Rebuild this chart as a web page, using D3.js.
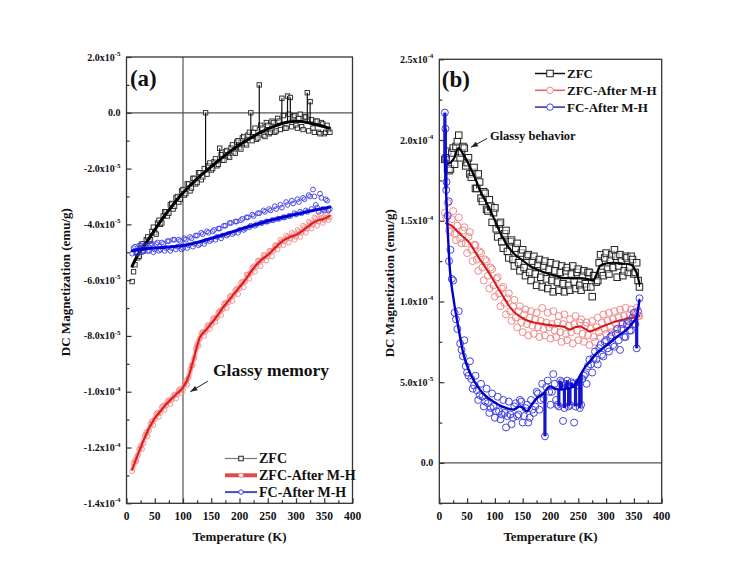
<!DOCTYPE html>
<html><head><meta charset="utf-8">
<script src="https://cdn.jsdelivr.net/npm/d3@7"></script>
<style>
body{margin:0;background:#fff}
svg{display:block}
text{font-family:"Liberation Serif","Times New Roman",serif;font-weight:bold;fill:#111}
</style>
</head><body>
<svg id="c" width="745" height="562"></svg>
<script>
// ---- DATA (magnetization in units of 1e-5 emu/g) ----
const UNIT = 1e-5;
const temps = [10,15,20,25,30,35,40,45,50,55,60,65,70,75,80,85,90,95,100,105,110,115,120,125,130,135,140,145,150,155,160,165,170,175,180,185,190,195,200,205,210,215,220,225,230,235,240,245,250,255,260,265,270,275,280,285,290,295,300,305,310,315,320,325,330,335,340,345,350,355,360];
const tempsHalf = [12.5,17.5,22.5,27.5,32.5,37.5,42.5,47.5,52.5,57.5,62.5,67.5,72.5,77.5,82.5,87.5,92.5,97.5,102.5,107.5,112.5,117.5,122.5,127.5,132.5,137.5,142.5,147.5,152.5,157.5,162.5,167.5,172.5,177.5,182.5,187.5,192.5,197.5,202.5,207.5,212.5,217.5,222.5,227.5,232.5,237.5,242.5,247.5,252.5,257.5,262.5,267.5,272.5,277.5,282.5,287.5,292.5,297.5,302.5,307.5,312.5,317.5,322.5,327.5,332.5,337.5,342.5,347.5,352.5,357.5];

// Panel (a)
const zfcA = [-6.05,-5.45,-5.2,-4.85,-4.95,-4.55,-4.6,-4.25,-4.3,-3.95,
  -4.0,-3.7,-3.55,-3.6,-3.25,-3.35,-3.0,-3.1,-2.75,-2.9,
  -2.55,-2.7,-2.35,-2.5,-2.15,-2.3,0.0,-1.9,-2.05,-1.75,
  -1.9,-1.27,-1.7,-1.4,-1.55,-1.25,-1.4,-1.05,-1.25,-0.9,
  -1.1,-0.8,0.0,-0.7,-0.95,1.0,-0.55,-0.85,-0.45,-0.7,
  -0.35,-0.65,-0.3,0.52,-0.55,0.6,0.55,-0.15,-0.45,-0.2,
  -0.5,-0.15,0.72,0.4,-0.55,-0.3,-0.7,-0.35,-0.75,-0.45,
  -0.7];
const zfcAHalf = [-5.7,-5.0,-5.15,-4.7,-4.85,-4.45,-4.55,-4.1,-4.35,-3.85,
  -3.95,-3.55,-3.7,-3.3,-3.45,-3.05,-3.2,-2.8,-2.95,-2.55,
  -2.8,-2.35,-2.55,-2.15,-2.4,-2.0,-2.2,-1.8,-2.0,-1.65,
  -1.85,-1.5,-1.7,-1.35,-1.6,-1.15,-1.45,-1.0,-1.3,-0.85,
  -1.15,-0.7,-1.0,-0.55,-0.9,-0.45,-0.8,-0.35,-0.75,-0.3,
  -0.7,-0.2,-0.6,-0.1,-0.55,-0.05,-0.5,-0.1,-0.55,-0.05,
  -0.6,-0.15,-0.65,-0.25,-0.7,-0.3,-0.75,-0.4,-0.7,-0.6];
const zfcASpikeT = [140,165,195,220,235,275,285,290,320,325];
const zfcALineT = [10,20,30,40,50,60,70,80,90,100,110,120,130,140,150,160,170,180,190,200,210,220,230,240,250,260,270,280,290,300,310,320,330,340,350,358];
const zfcALine = [-5.5,-5.1,-4.8,-4.5,-4.2,-3.9,-3.62,-3.36,-3.1,-2.87,-2.66,-2.46,-2.27,-2.1,-1.93,-1.76,-1.6,-1.44,-1.29,-1.15,-1.02,-0.9,-0.78,-0.68,-0.58,-0.5,-0.42,-0.36,-0.32,-0.3,-0.31,-0.35,-0.4,-0.45,-0.5,-0.55];

const zfcAfterA = [-12.85,-12.45,-12.3,-11.95,-11.85,-11.45,-11.4,-11.05,-11.0,-10.75,
  -10.75,-10.5,-10.5,-10.3,-10.3,-10.1,-10.1,-9.9,-9.95,-9.6,
  -9.5,-9.05,-8.8,-8.3,-8.1,-7.85,-7.85,-7.6,-7.6,-7.35,
  -7.35,-7.1,-7.05,-6.8,-6.8,-6.55,-6.55,-6.3,-6.3,-6.05,
  -6.05,-5.8,-5.75,-5.5,-5.5,-5.3,-5.3,-5.1,-5.15,-4.95,
  -4.95,-4.75,-4.75,-4.6,-4.6,-4.45,-4.5,-4.35,-4.45,-4.25,
  -4.3,-4.1,-4.15,-3.95,-4.0,-3.8,-3.9,-3.75,-3.85,-3.65,
  -3.75];
const zfcAfterAHalf = [-12.55,-12.5,-12.05,-12.05,-11.55,-11.6,-11.15,-11.2,-10.8,-10.9,
  -10.55,-10.65,-10.35,-10.45,-10.15,-10.25,-9.95,-10.05,-9.7,-9.75,
  -9.2,-9.05,-8.45,-8.35,-7.9,-8.0,-7.65,-7.75,-7.4,-7.5,
  -7.15,-7.25,-6.85,-7.0,-6.6,-6.75,-6.35,-6.5,-6.1,-6.25,
  -5.8,-5.95,-5.55,-5.7,-5.3,-5.5,-5.1,-5.3,-4.95,-5.15,
  -4.75,-4.9,-4.55,-4.75,-4.4,-4.65,-4.3,-4.55,-4.2,-4.45,
  -4.05,-4.3,-3.9,-4.15,-3.75,-4.05,-3.65,-3.95,-3.6,-3.85];
const zfcAfterALineT = [10,20,30,40,50,60,70,80,90,100,110,115,120,125,130,140,150,160,170,180,190,200,210,220,230,240,250,260,270,280,290,300,310,320,330,340,350,360];
const zfcAfterALine = [-12.8,-12.25,-11.75,-11.3,-10.95,-10.7,-10.45,-10.25,-10.05,-9.85,-9.45,-9.1,-8.75,-8.35,-8.05,-7.8,-7.55,-7.3,-7.0,-6.75,-6.5,-6.25,-6.0,-5.7,-5.45,-5.25,-5.1,-4.9,-4.7,-4.55,-4.45,-4.38,-4.25,-4.1,-3.95,-3.85,-3.8,-3.7];

const fcA = [-5.05,-4.8,-5.0,-4.75,-4.95,-4.8,-4.95,-4.7,-4.9,-4.65,
  -4.9,-4.7,-4.85,-4.6,-4.85,-4.55,-4.8,-4.6,-4.85,-4.55,
  -4.75,-4.5,-4.7,-4.4,-4.7,-4.35,-4.6,-4.3,-4.55,-4.2,
  -4.45,-4.15,-4.4,-4.05,-4.35,-3.95,-4.3,-3.9,-4.2,-3.8,
  -4.15,-3.75,-4.05,-3.7,-4.0,-3.6,-3.95,-3.55,-3.9,-3.5,
  -3.85,-3.45,-3.8,-3.4,-3.75,-3.3,-3.7,-3.25,-3.65,-3.2,
  -3.6,-3.1,-3.55,-3.0,-2.75,-3.3,-3.55,-3.05,-3.5,-3.15,
  -3.45];
const fcAHalf = [-4.85,-5.05,-4.75,-5.0,-4.75,-4.95,-4.7,-5.0,-4.7,-4.95,
  -4.65,-4.95,-4.6,-4.95,-4.55,-4.9,-4.55,-4.9,-4.5,-4.85,
  -4.45,-4.8,-4.4,-4.75,-4.3,-4.7,-4.25,-4.6,-4.25,-4.55,
  -4.15,-4.5,-4.05,-4.4,-3.95,-4.35,-3.9,-4.3,-3.85,-4.2,
  -3.75,-4.1,-3.65,-4.05,-3.6,-3.95,-3.5,-3.9,-3.45,-3.85,
  -3.35,-3.8,-3.3,-3.75,-3.2,-3.7,-3.15,-3.6,-3.1,-3.55,
  -3.05,-3.5,-2.95,-3.45,-3.0,-3.4,-2.9,-3.45,-3.1,-3.5];
const fcALineT = [10,20,30,50,70,90,110,130,150,170,190,210,230,250,270,290,310,330,350,360];
const fcALine = [-4.95,-4.9,-4.88,-4.85,-4.82,-4.78,-4.72,-4.62,-4.5,-4.38,-4.25,-4.12,-4.0,-3.88,-3.78,-3.68,-3.6,-3.5,-3.42,-3.38];

// Panel (b)
const zfcB = [18.8,19.3,18.2,19.5,19.6,20.3,19.2,19.5,18.6,17.9,
  18.0,17.0,17.9,16.4,16.8,15.7,16.3,14.9,15.8,14.0,
  14.9,13.3,14.4,12.7,13.8,12.2,13.6,11.9,13.2,11.6,
  12.9,11.3,12.8,11.0,12.6,10.9,12.5,10.8,12.4,10.6,
  12.3,10.7,12.2,10.6,12.1,10.7,12.2,10.8,12.0,10.7,
  11.9,10.9,11.8,10.3,11.6,11.3,12.9,11.6,13.0,11.7,
  12.9,13.2,11.5,12.9,11.6,12.8,11.8,12.8,11.7,12.4,
  10.9];
const zfcBHalf = [18.9,18.1,19.2,18.5,19.9,18.9,19.6,18.4,18.9,17.7,
  18.3,17.0,17.4,16.2,16.7,15.6,15.9,15.5,14.5,14.8,
  13.7,14.2,13.1,13.7,12.6,13.3,12.4,13.0,12.1,12.8,
  11.8,12.5,11.7,12.3,11.5,12.2,11.4,12.0,11.3,11.9,
  11.2,11.8,11.1,11.9,11.0,11.7,11.2,11.8,11.0,11.6,
  11.1,11.8,10.9,11.6,11.2,12.4,11.8,12.7,12.0,12.6,
  12.1,12.8,12.2,12.5,11.9,12.7,12.1,12.6,11.8,11.3];
const zfcBSpikeT = [67.5,87.5,360];
const zfcBLineT = [12,20,27,34,45,55,65,73,82,91,100,109,120,133,148,163,178,193,208,223,238,253,265,277,283,289,300,313,328,343,350,355,360];
const zfcBLine = [18.5,18.6,18.9,19.5,19.0,18.35,17.6,16.9,16.3,15.7,15.0,14.3,13.6,13.0,12.6,12.2,11.95,11.75,11.6,11.45,11.45,11.45,11.4,11.3,11.7,12.2,12.35,12.4,12.35,12.3,12.1,11.75,11.1];

const zfcAfterB = [15.5,16.1,14.3,15.6,13.8,15.2,13.6,14.6,13.0,14.3,
  12.5,13.5,11.9,13.0,11.3,12.5,10.8,12.0,10.3,11.5,
  9.7,10.9,9.2,10.5,8.8,10.1,8.4,9.7,8.1,9.5,
  7.9,9.4,8.0,9.3,7.8,9.6,7.9,9.3,7.7,9.4,
  7.8,9.1,7.5,9.2,7.6,8.9,7.4,9.1,7.6,8.9,
  7.5,8.7,7.3,8.8,7.5,9.0,7.8,9.2,8.0,9.3,
  8.1,9.4,8.3,9.5,8.3,9.6,8.5,9.5,8.6,9.6,
  9.1];
const zfcAfterBHalf = [15.2,14.4,15.1,14.2,14.7,13.9,14.4,13.6,14.0,13.2,
  13.5,12.6,13.1,12.1,12.6,11.6,12.1,11.0,11.4,10.5,
  10.8,9.9,10.2,9.4,9.7,9.0,9.4,8.7,9.2,8.6,
  9.0,8.5,8.9,8.4,8.8,8.3,8.7,8.4,8.6,8.2,
  8.7,8.1,8.6,8.0,8.5,8.1,8.6,8.2,8.7,8.0,
  8.5,7.9,8.3,7.8,8.4,8.1,8.7,8.3,8.8,8.4,
  8.9,8.6,9.0,8.7,9.1,8.8,9.2,8.9,9.3,9.1];
const zfcAfterBLineT = [12,22,31,43,55,64,73,85,97,106,115,124,133,148,163,178,193,208,223,235,244,253,262,271,286,301,316,331,345,355,360];
const zfcAfterBLine = [14.85,14.7,14.4,14.0,13.6,13.1,12.6,12.0,11.35,10.8,10.3,9.8,9.4,9.0,8.76,8.65,8.56,8.5,8.45,8.25,8.4,8.45,8.3,8.15,8.35,8.56,8.75,8.87,8.98,9.03,9.1];

const fcB = [21.7,15.3,13.2,11.3,8.9,9.4,7.0,7.6,5.6,6.3,
  4.6,5.4,3.9,4.9,3.5,4.6,3.1,4.3,2.8,4.1,
  2.7,3.9,2.2,3.8,2.4,3.5,2.9,3.9,2.5,3.4,
  2.5,3.9,3.1,4.4,3.3,4.9,1.65,5.1,3.6,5.5,
  3.9,3.5,5.0,3.4,5.1,3.6,4.9,3.5,5.0,3.6,
  5.4,4.9,6.4,5.6,6.9,6.1,7.3,6.6,7.6,6.9,
  7.9,7.2,8.3,7.0,8.6,7.8,8.8,8.2,9.3,7.1,
  10.2];
const fcBHalf = [16.9,12.5,11.4,9.3,8.3,7.4,6.6,6.0,5.4,5.2,
  4.8,4.5,4.2,4.1,3.8,3.7,3.4,3.5,3.2,3.2,
  3.0,3.1,2.9,3.0,2.8,3.7,3.0,3.8,2.9,3.6,
  2.8,3.3,3.5,4.3,3.9,4.0,4.7,4.4,4.4,4.9,
  3.6,5.1,2.6,4.9,3.5,5.0,2.5,4.8,3.4,5.2,
  5.5,6.0,6.1,6.5,6.4,7.1,6.7,7.5,7.1,7.8,
  7.3,8.0,7.6,8.3,7.8,8.6,8.2,9.0,8.6,9.4];
const fcBEarlyT = [11,12,13,17];
const fcBEarly = [20.7,18.8,17.4,16.2];
const fcBSpikeT = [10,11,12,190,215,217.5,220,225,227.5,230,232.5,235,237.5,240,245,247.5,250,252.5,255,355];
const fcBLineT = [10,12,14,16,19,25,30,34,43,55,64,73,85,97,109,121,133,145,151,157,166,175,187,199,208,217,229,241,250,259,271,283,298,313,325,337,346,355,360];
const fcBLine = [19.0,17.0,15.2,13.8,12.0,10.3,9.2,8.45,6.8,5.57,5.0,4.54,4.1,3.81,3.55,3.4,3.3,3.5,3.4,3.19,3.6,4.0,4.3,4.74,4.6,4.54,4.6,4.74,5.2,5.77,6.3,6.8,7.2,7.63,7.95,8.25,8.6,9.07,10.1];

// Ticks
const xTicks = [0,50,100,150,200,250,300,350,400];
const yTicksA = [-14,-12,-10,-8,-6,-4,-2,0,2];
const yTickLabelsA = ["-1.4x10^-4","-1.2x10^-4","-1.0x10^-4","-8.0x10^-5","-6.0x10^-5","-4.0x10^-5","-2.0x10^-5","0.0","2.0x10^-5"];
const yTicksB = [0,5,10,15,20,25];
const yTickLabelsB = ["0.0","5.0x10^-5","1.0x10^-4","1.5x10^-4","2.0x10^-4","2.5x10^-4"];
const seriesNames = ["ZFC","ZFC-After M-H","FC-After M-H"];

// ---- DRAWING ----
const svg = d3.select("#c");
const AX = "#333";

function pairs(T, V){ return T.map((t,i)=>[t,V[i]]); }
function merge(...lists){ return [].concat(...lists).sort((a,b)=>a[0]-b[0]); }

function drawPanel(cfg){
  const g = svg.append("g");
  const x = d3.scaleLinear().domain([0,400]).range(cfg.xr);
  const y = d3.scaleLinear().domain(cfg.yd).range(cfg.yr);
  const [x0,x1] = cfg.xr, [yb,yt] = cfg.yr;

  cfg.hlines.forEach(v=>g.append("line").attr("x1",x0).attr("x2",x1).attr("y1",y(v)).attr("y2",y(v)).attr("stroke","#555").attr("stroke-width",1.2));
  cfg.vlines.forEach(v=>g.append("line").attr("x1",x(v)).attr("x2",x(v)).attr("y1",yb).attr("y2",yt).attr("stroke","#555").attr("stroke-width",1.2));

  const data = g.append("g");
  cfg.series.forEach(s=>{
    const pts = s.pts;
    const sg = data.append("g");
    if(s.shape==="square"){
      sg.selectAll("rect").data(pts).join("rect")
        .attr("x",d=>x(d[0])-s.size/2).attr("y",d=>y(d[1])-s.size/2)
        .attr("width",s.size).attr("height",s.size)
        .attr("fill","#fff").attr("fill-opacity",0.5).attr("stroke",s.mcol).attr("stroke-width",s.msw);
    } else {
      sg.selectAll("circle").data(pts).join("circle")
        .attr("cx",d=>x(d[0])).attr("cy",d=>y(d[1])).attr("r",s.size/2)
        .attr("fill","none").attr("stroke",s.mcol).attr("stroke-width",s.msw);
    }
    const trend = d3.scaleLinear().domain(s.line.map(d=>d[0])).range(s.line.map(d=>d[1])).clamp(true);
    const spk = pts.filter(d=>(s.spikes||[]).includes(d[0]));
    sg.selectAll("line.spike").data(spk).join("line").attr("class","spike")
      .attr("x1",d=>x(d[0])).attr("x2",d=>x(d[0]))
      .attr("y1",d=>y(trend(d[0]))).attr("y2",d=>y(d[1]))
      .attr("stroke",s.tcol).attr("stroke-width",s.tw);
    if(s.band){
      sg.append("path").datum(s.line).attr("fill","none").attr("stroke",s.band).attr("stroke-width",s.bandw).attr("stroke-opacity",0.45)
        .attr("d",d3.line().curve(d3.curveMonotoneX).x(d=>x(d[0])).y(d=>y(d[1])));
    }
    sg.append("path").datum(s.line).attr("fill","none").attr("stroke",s.lcol).attr("stroke-width",s.lw)
      .attr("stroke-linejoin","round").attr("stroke-linecap","round")
      .attr("d",d3.line().curve(d3.curveMonotoneX).x(d=>x(d[0])).y(d=>y(d[1])));
  });

  g.append("rect").attr("x",x0).attr("y",yt).attr("width",x1-x0).attr("height",yb-yt)
    .attr("fill","none").attr("stroke",AX).attr("stroke-width",1.3);

  const xa = g.append("g").attr("transform",`translate(0,${yb})`)
    .call(d3.axisBottom(x).tickValues(xTicks).tickSize(-5).tickFormat(""));
  const xm = g.append("g").attr("transform",`translate(0,${yb})`)
    .call(d3.axisBottom(x).tickValues(d3.range(25,400,50)).tickSize(-3).tickFormat(""));
  [xa,xm].forEach(a=>{a.select(".domain").remove(); a.selectAll("line").attr("stroke",AX).attr("stroke-width",1.2);});
  g.selectAll(null).data(xTicks).join("text").attr("x",d=>x(d)).attr("y",yb+17)
    .attr("text-anchor","middle").attr("font-size",11.5).text(d=>d);

  const ya = g.append("g").attr("transform",`translate(${x0},0)`)
    .call(d3.axisLeft(y).tickValues(cfg.yt).tickSize(-5).tickFormat(""));
  const ym = g.append("g").attr("transform",`translate(${x0},0)`)
    .call(d3.axisLeft(y).tickValues(cfg.ymt).tickSize(-3).tickFormat(""));
  [ya,ym].forEach(a=>{a.select(".domain").remove(); a.selectAll("line").attr("stroke",AX).attr("stroke-width",1.2);});
  cfg.yt.forEach((v,i)=>{
    const parts = cfg.ytl[i].split("^");
    const t = g.append("text").attr("x",x0-6).attr("y",y(v)+3.5).attr("text-anchor","end").attr("font-size",10);
    t.append("tspan").text(parts[0]);
    if(parts[1]) t.append("tspan").attr("dy",-4.5).attr("font-size",7).text(parts[1]);
  });

  g.append("text").attr("x",(x0+x1)/2).attr("y",541).attr("text-anchor","middle").attr("font-size",13).text("Temperature (K)");
  g.append("text").attr("transform",`translate(${cfg.ytx},${(yb+yt)/2 + 2}) rotate(-90)`)
    .attr("text-anchor","middle").attr("font-size",13).text("DC Magnetization (emu/g)");

  g.append("text").attr("x",x(cfg.letterPos[0])).attr("y",y(cfg.letterPos[1])).attr("font-size",23).text(cfg.letter);

  const an = cfg.ann;
  g.append("text").attr("x",x(an.text[0])).attr("y",y(an.text[1])).attr("font-size",an.fs).text(an.label);
  const ax1=x(an.from[0]), ay1=y(an.from[1]), ax2=x(an.to[0]), ay2=y(an.to[1]);
  g.append("line").attr("x1",ax1).attr("y1",ay1).attr("x2",ax2).attr("y2",ay2).attr("stroke","#222").attr("stroke-width",1);
  const ang = Math.atan2(ay2-ay1, ax2-ax1);
  const hl = 7, hw = 2.6;
  const p = [[ax2,ay2],
    [ax2 - hl*Math.cos(ang) + hw*Math.sin(ang), ay2 - hl*Math.sin(ang) - hw*Math.cos(ang)],
    [ax2 - hl*Math.cos(ang) - hw*Math.sin(ang), ay2 - hl*Math.sin(ang) + hw*Math.cos(ang)]];
  g.append("path").attr("d","M"+p.map(q=>q.join(",")).join("L")+"Z").attr("fill","#222");

  const L = cfg.legend;
  cfg.series.forEach((s,i)=>{
    const ly = L.y0 + i*L.dy;
    g.append("line").attr("x1",L.x).attr("x2",L.x+L.w).attr("y1",ly).attr("y2",ly)
      .attr("stroke",s.legCol).attr("stroke-width",s.legW);
    const cx = L.x + L.w/2;
    if(s.shape==="square"){
      g.append("rect").attr("x",cx-L.ms/2).attr("y",ly-L.ms/2).attr("width",L.ms).attr("height",L.ms)
        .attr("fill","#fff").attr("stroke",s.mcol).attr("stroke-width",1);
    } else {
      g.append("circle").attr("cx",cx).attr("cy",ly).attr("r",L.ms/2).attr("fill","#fff").attr("stroke",s.mcol).attr("stroke-width",1);
    }
    g.append("text").attr("x",L.x+L.w+2).attr("y",ly+4.5).attr("font-size",L.fs).text(seriesNames[i]);
  });
}

// Panel (a)
drawPanel({
  xr:[126.5,352.5], yd:[-14,2], yr:[503.3,57],
  yt:yTicksA, ytl:yTickLabelsA, ymt:[-13,-11,-9,-7,-5,-3,-1,1],
  hlines:[0], vlines:[100], ytx:70,
  letter:"(a)", letterPos:[6,0.95],
  ann:{label:"Glassy memory", text:[153,-9.45], from:[144,-9.62], to:[113,-10.0], fs:17.5},
  legend:{x:225, y0:458.5, dy:16.8, w:32, ms:4.5, fs:14},
  series:[
    {pts:merge(pairs(temps,zfcA),pairs(tempsHalf,zfcAHalf)), line:pairs(zfcALineT,zfcALine), spikes:zfcASpikeT,
     shape:"square", size:4.4, mcol:"#222", msw:0.9, tcol:"#111", tw:1.2, lcol:"#000", lw:3, legCol:"#777", legW:1.2},
    {pts:merge(pairs(temps,zfcAfterA),pairs(tempsHalf,zfcAfterAHalf)), line:pairs(zfcAfterALineT,zfcAfterALine),
     shape:"circle", size:4.8, mcol:"#ef8a8a", msw:0.9, tcol:"#e33", tw:0.8, lcol:"#e01818", lw:2, band:"#f07070", bandw:5, legCol:"#e04a4a", legW:4},
    {pts:merge(pairs(temps,fcA),pairs(tempsHalf,fcAHalf)), line:pairs(fcALineT,fcALine),
     shape:"circle", size:4.8, mcol:"#3a3ae8", msw:0.9, tcol:"#22d", tw:0.8, lcol:"#0000d8", lw:3, legCol:"#4b4bb8", legW:2}
  ]
});

// Panel (b)
drawPanel({
  xr:[439.3,661.7], yd:[-2.5,25], yr:[503.3,59.3],
  yt:yTicksB, ytl:yTickLabelsB, ymt:[-2.5,2.5,7.5,12.5,17.5,22.5],
  hlines:[0], vlines:[], ytx:394,
  letter:"(b)", letterPos:[4.5,23.3],
  ann:{label:"Glassy behavior", text:[91,20.0], from:[86,20.1], to:[57,19.55], fs:12.5},
  legend:{x:535, y0:73.5, dy:16.8, w:30, ms:6.5, fs:13},
  series:[
    {pts:merge(pairs(temps,zfcB),pairs(tempsHalf,zfcBHalf)), line:pairs(zfcBLineT,zfcBLine), spikes:zfcBSpikeT,
     shape:"square", size:6.5, mcol:"#222", msw:1, tcol:"#111", tw:1.2, lcol:"#000", lw:2.2, legCol:"#111", legW:1.5},
    {pts:merge(pairs(temps,zfcAfterB),pairs(tempsHalf,zfcAfterBHalf)), line:pairs(zfcAfterBLineT,zfcAfterBLine),
     shape:"circle", size:7, mcol:"#f08a8a", msw:1, tcol:"#f29a9a", tw:0.9, lcol:"#d81818", lw:2, legCol:"#e06060", legW:1.5},
    {pts:merge(pairs(temps,fcB),pairs(tempsHalf,fcBHalf),pairs(fcBEarlyT,fcBEarly)), line:pairs(fcBLineT,fcBLine), spikes:fcBSpikeT,
     shape:"circle", size:7, mcol:"#4444e0", msw:1, tcol:"#1515d0", tw:3.2, lcol:"#0000c8", lw:2.4, legCol:"#2a2ab0", legW:1.5}
  ]
});
</script>
</body></html>
